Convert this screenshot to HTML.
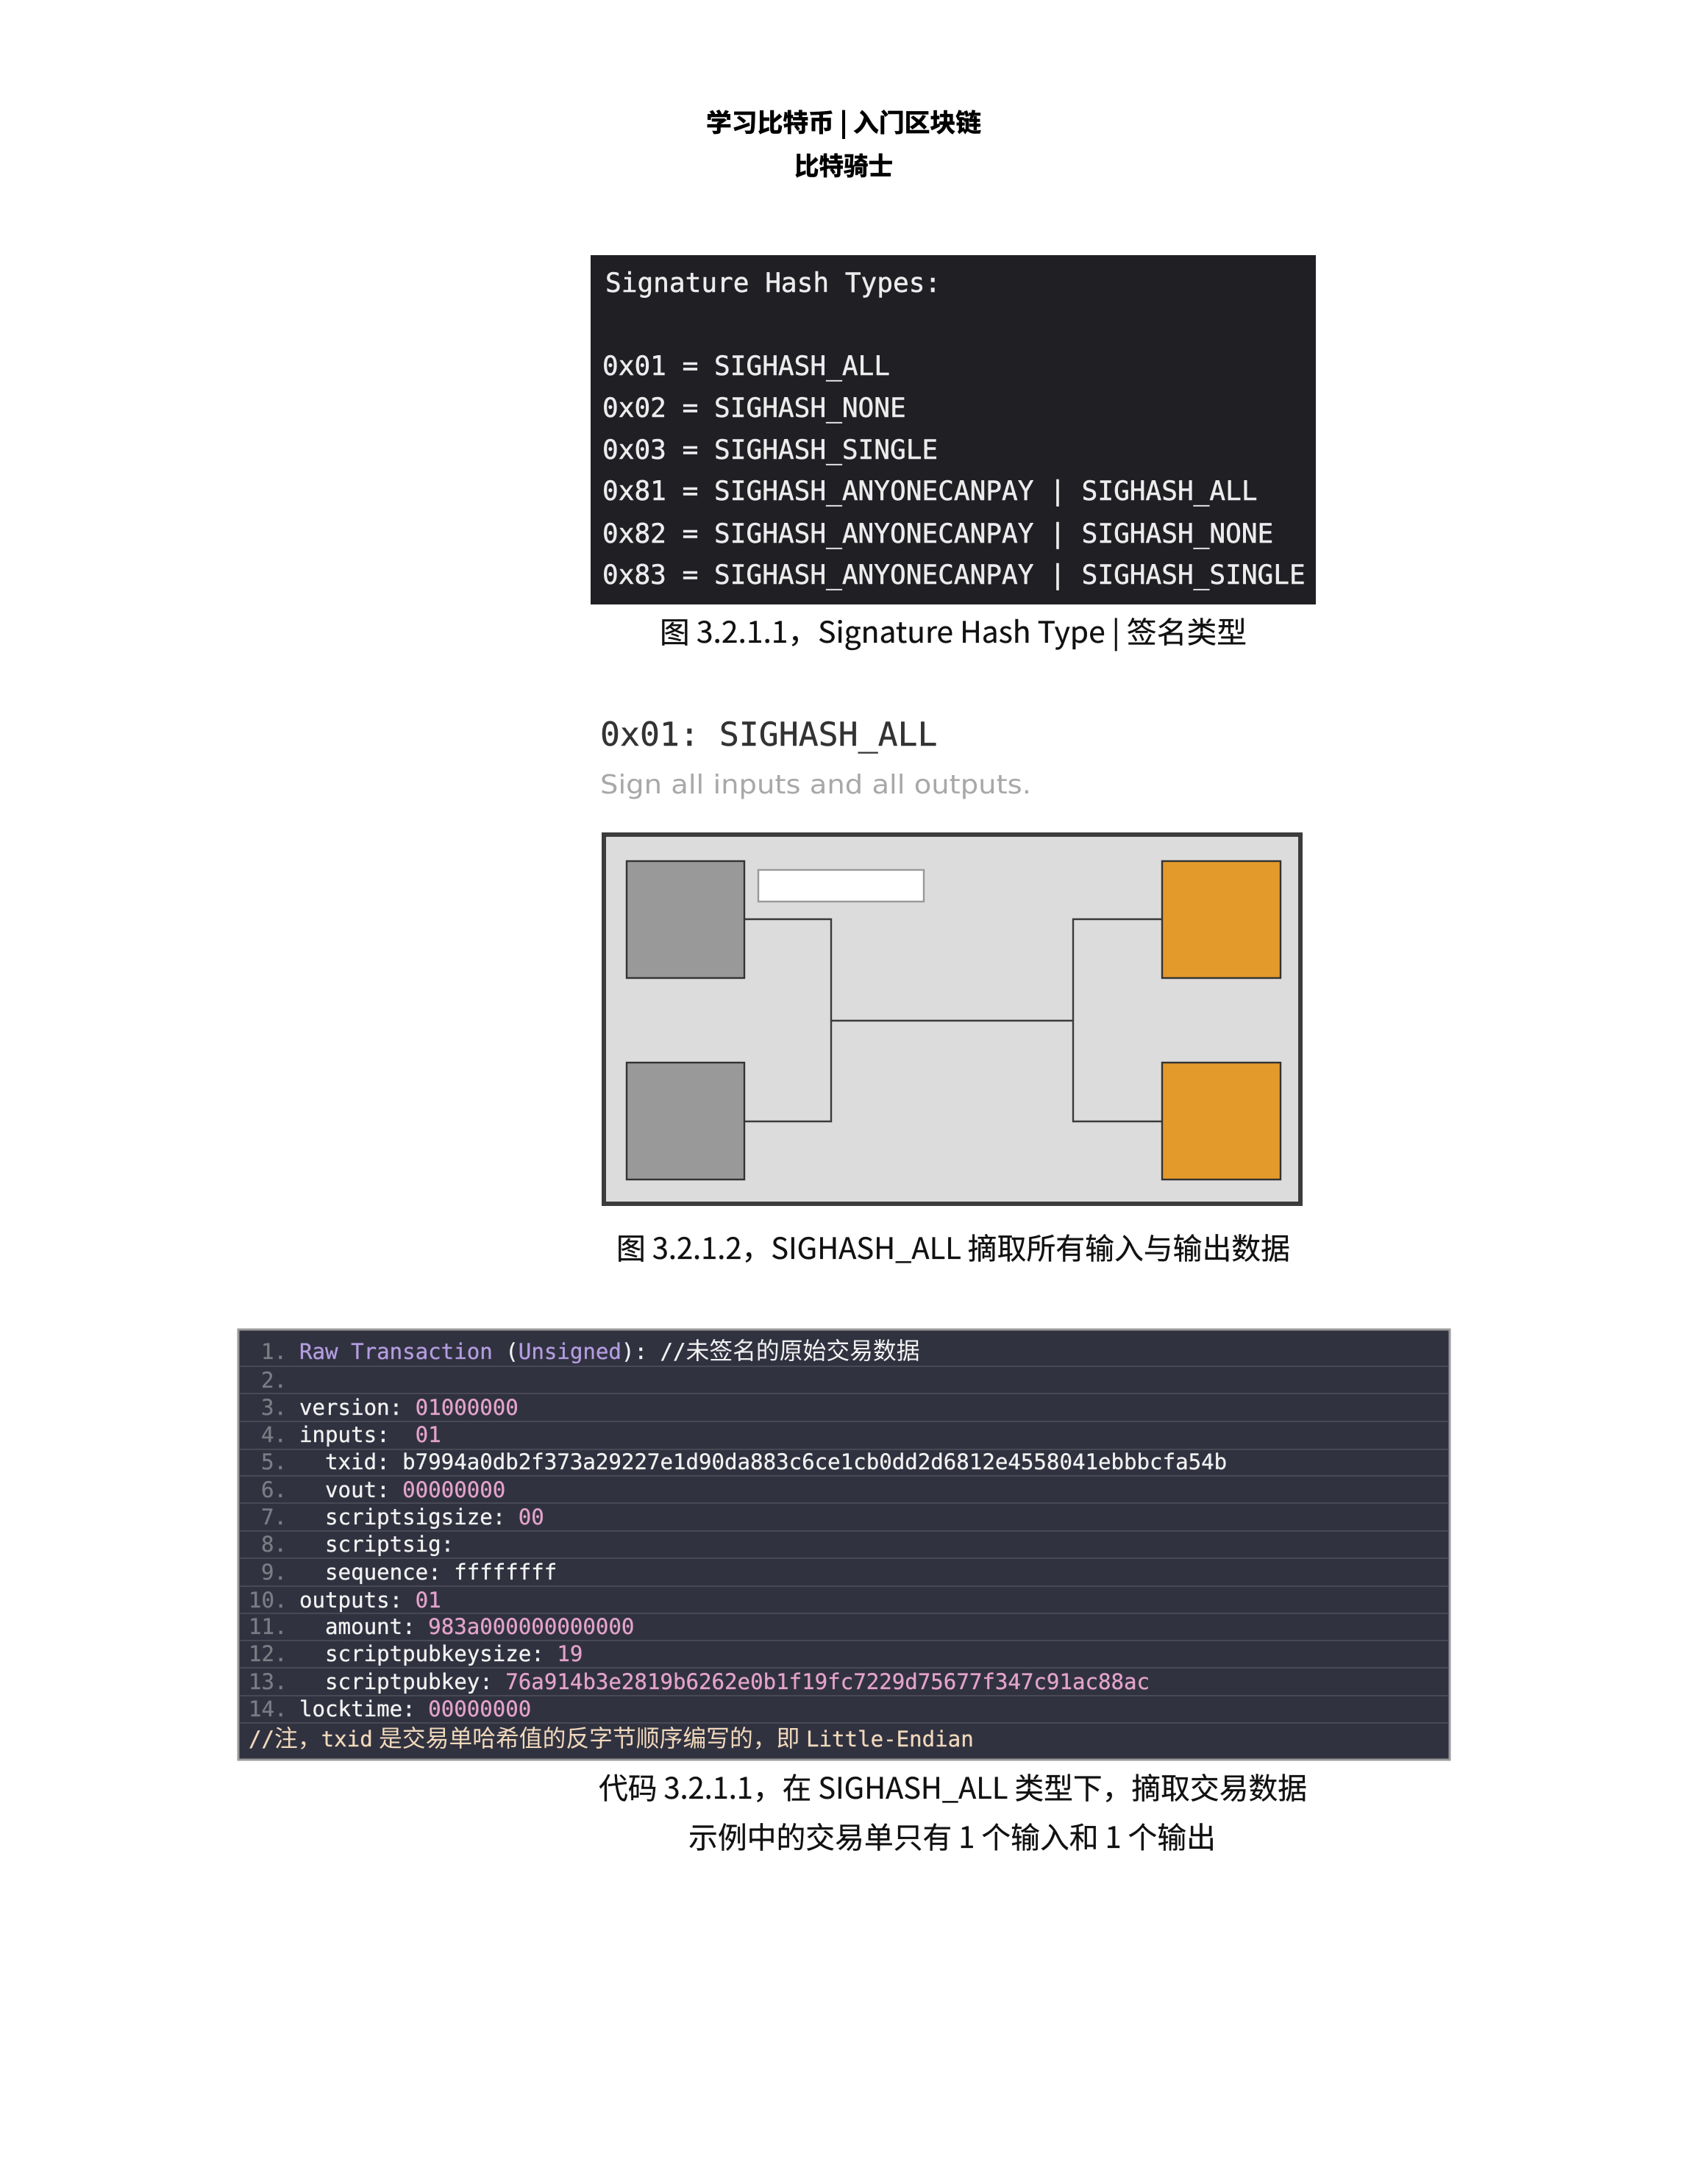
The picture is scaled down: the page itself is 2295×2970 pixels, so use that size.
<!DOCTYPE html>
<html><head><meta charset="utf-8"><title>SIGHASH_ALL</title>
<style>
html,body{margin:0;padding:0;background:#fff;width:2295px;height:2970px;overflow:hidden}
svg{display:block}
text{white-space:pre}
.cap{font-family:"Noto Sans CJK SC","Liberation Sans",sans-serif;font-size:40px;fill:#111;stroke:#111;stroke-width:.3}
.ttl{font-family:"Noto Sans CJK SC","Liberation Sans",sans-serif;font-size:34px;font-weight:700;fill:#000;stroke:#000;stroke-width:.7}
.tb{font-family:"DejaVu Sans Mono",monospace;font-size:36.1px;fill:#ececec;stroke:#ececec;stroke-width:.5}
.c{font-family:"DejaVu Sans Mono","Noto Sans CJK SC",monospace;font-size:29.1px;fill:#f2f2f2;stroke:#f2f2f2;stroke-width:.3}
.n{fill:#7b7c85;stroke:#7b7c85}.p{fill:#e3a3cb;stroke:#e3a3cb}.v{fill:#b49de0;stroke:#b49de0}
.k{font-family:"Noto Sans CJK SC",sans-serif;font-size:31.8px;stroke-width:0}
.sep{stroke:#565762;stroke-width:1.3}
</style></head><body>
<svg xmlns="http://www.w3.org/2000/svg" width="2295" height="2970" viewBox="0 0 2295 2970">
<rect width="2295" height="2970" fill="#fff"/>
<text class="ttl" x="960" y="179" textLength="374" lengthAdjust="spacingAndGlyphs">学习比特币 | 入门区块链</text>
<text class="ttl" x="1080" y="238" textLength="134" lengthAdjust="spacingAndGlyphs">比特骑士</text>

<rect x="803" y="347" width="986" height="475" fill="#1f1f24"/>
<text class="tb" x="823" y="397">Signature Hash Types:</text>
<text class="tb" x="819" y="510">0x01 = SIGHASH_ALL</text>
<text class="tb" x="819" y="567">0x02 = SIGHASH_NONE</text>
<text class="tb" x="819" y="624">0x03 = SIGHASH_SINGLE</text>
<text class="tb" x="819" y="680">0x81 = SIGHASH_ANYONECANPAY | SIGHASH_ALL</text>
<text class="tb" x="819" y="738">0x82 = SIGHASH_ANYONECANPAY | SIGHASH_NONE</text>
<text class="tb" x="819" y="794">0x83 = SIGHASH_ANYONECANPAY | SIGHASH_SINGLE</text>
<text class="cap" x="897" y="874" textLength="798" lengthAdjust="spacingAndGlyphs">图 3.2.1.1，Signature Hash Type | 签名类型</text>

<text x="816" y="1014" style="font-family:'DejaVu Sans Mono',monospace;stroke:#333;stroke-width:.4" font-size="44.8" fill="#333">0x01: SIGHASH_ALL</text>
<text x="816" y="1079" style="font-family:'DejaVu Sans',sans-serif" font-size="36" fill="#a8a8a8" textLength="586" lengthAdjust="spacingAndGlyphs">Sign all inputs and all outputs.</text>

<rect x="821" y="1135" width="947" height="502" fill="#dcdcdc" stroke="#3c3c3c" stroke-width="6"/>
<g stroke="#3a3a3a" stroke-width="2.4" fill="none">
<path d="M1011 1250H1130V1525H1011M1130 1388H1459M1580 1250H1459V1525H1580"/>
</g>
<g stroke="#333" stroke-width="2.4">
<rect x="852" y="1171" width="160" height="159" fill="#999"/>
<rect x="852" y="1445" width="160" height="159" fill="#999"/>
<rect x="1580" y="1171" width="161" height="159" fill="#e49a2a"/>
<rect x="1580" y="1445" width="161" height="159" fill="#e49a2a"/>
</g>
<rect x="1031" y="1183" width="225" height="43" fill="#fff" stroke="#999" stroke-width="2.4"/>
<text class="cap" x="838" y="1712" textLength="916" lengthAdjust="spacingAndGlyphs">图 3.2.1.2，SIGHASH_ALL 摘取所有输入与输出数据</text>

<rect x="324" y="1808" width="1647" height="585" fill="#313240" stroke="#9a9a9a" stroke-width="3"/>
<g class="sep">
<path d="M325 1858H1970M325 1895H1970M325 1933H1970M325 1971H1970M325 2007H1970M325 2044H1970M325 2082H1970M325 2119H1970M325 2157H1970M325 2194H1970M325 2231H1970M325 2268H1970M325 2306H1970M325 2343H1970"/>
</g>
<g>
<text x="355" y="1848" class="c n">1.</text>
<text x="407" y="1848" class="c"><tspan class="v">Raw Transaction</tspan> (<tspan class="v">Unsigned</tspan>): //<tspan class="k">未签名的原始交易数据</tspan></text>
<text x="355" y="1887" class="c n">2.</text>
<text x="355" y="1924" class="c n">3.</text>
<text x="407" y="1924" class="c">version: <tspan class="p">01000000</tspan></text>
<text x="355" y="1961" class="c n">4.</text>
<text x="407" y="1961" class="c">inputs:  <tspan class="p">01</tspan></text>
<text x="355" y="1998" class="c n">5.</text>
<text x="407" y="1998" class="c">  txid: b7994a0db2f373a29227e1d90da883c6ce1cb0dd2d6812e4558041ebbbcfa54b</text>
<text x="355" y="2036" class="c n">6.</text>
<text x="407" y="2036" class="c">  vout: <tspan class="p">00000000</tspan></text>
<text x="355" y="2073" class="c n">7.</text>
<text x="407" y="2073" class="c">  scriptsigsize: <tspan class="p">00</tspan></text>
<text x="355" y="2110" class="c n">8.</text>
<text x="407" y="2110" class="c">  scriptsig:</text>
<text x="355" y="2148" class="c n">9.</text>
<text x="407" y="2148" class="c">  sequence: ffffffff</text>
<text x="338" y="2186" class="c n">10.</text>
<text x="407" y="2186" class="c">outputs: <tspan class="p">01</tspan></text>
<text x="338" y="2222" class="c n">11.</text>
<text x="407" y="2222" class="c">  amount: <tspan class="p">983a000000000000</tspan></text>
<text x="338" y="2259" class="c n">12.</text>
<text x="407" y="2259" class="c">  scriptpubkeysize: <tspan class="p">19</tspan></text>
<text x="338" y="2297" class="c n">13.</text>
<text x="407" y="2297" class="c">  scriptpubkey: <tspan class="p">76a914b3e2819b6262e0b1f19fc7229d75677f347c91ac88ac</tspan></text>
<text x="338" y="2334" class="c n">14.</text>
<text x="407" y="2334" class="c">locktime: <tspan class="p">00000000</tspan></text>
<text x="338" y="2375" class="c" style="fill:#f0d8bb;stroke:#f0d8bb">//<tspan class="k">注，</tspan>txid<tspan x="515" class="k">是交易单哈希值的反字节顺序编写的，即</tspan><tspan x="1096">Little-Endian</tspan></text>
</g>
<text class="cap" x="814" y="2446" textLength="963" lengthAdjust="spacingAndGlyphs">代码 3.2.1.1，在 SIGHASH_ALL 类型下，摘取交易数据</text>
<text class="cap" x="936" y="2513" textLength="717" lengthAdjust="spacingAndGlyphs">示例中的交易单只有 1 个输入和 1 个输出</text>
</svg>
</body></html>
